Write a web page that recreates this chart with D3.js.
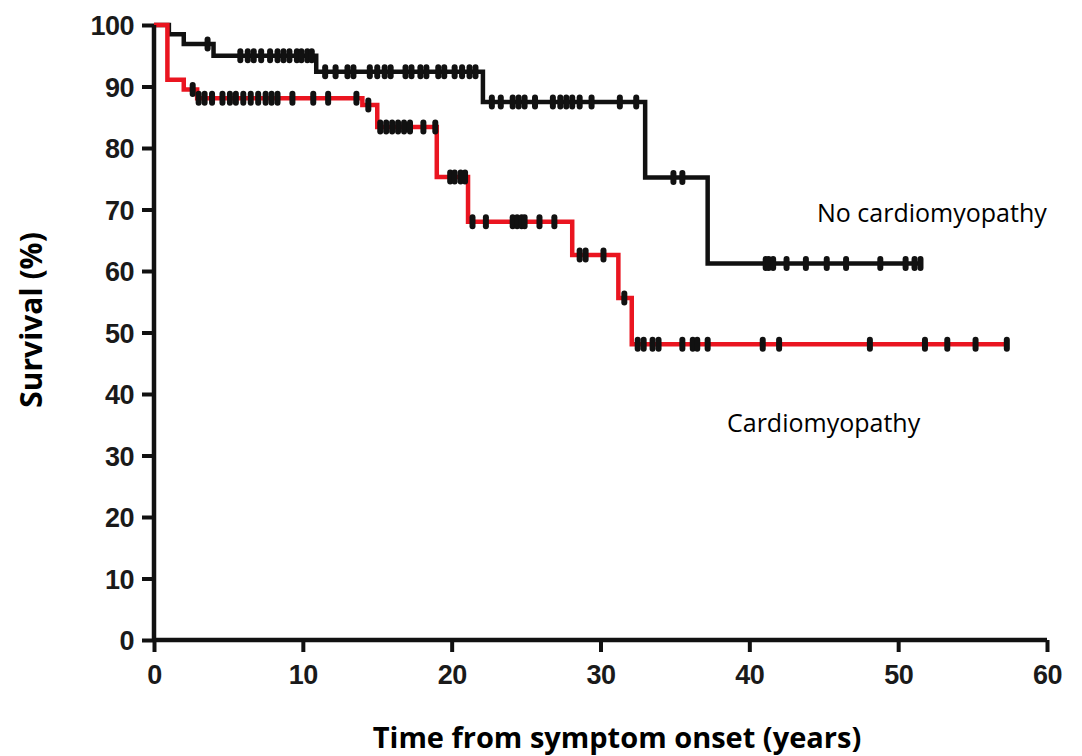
<!DOCTYPE html>
<html>
<head>
<meta charset="utf-8">
<script src="https://cdn.jsdelivr.net/npm/d3@7"></script>
<style>
  html, body { margin: 0; padding: 0; background: #fff; }
  svg { display: block; }
</style>
</head>
<body>
<svg id="chart" width="1082" height="756"></svg>
<script>
// Kaplan–Meier steps: [time in years, survival %]
const noCmSteps = [[0, 100], [1.0, 98.5], [2.0, 96.9], [4.0, 95.0], [10.9, 92.4], [22.1, 87.5], [33.0, 75.2], [37.2, 61.2], [51.5, 61.2]];
const cmSteps = [[0, 100], [0.9, 91.1], [2.0, 89.5], [2.9, 88.1], [14.0, 87.0], [15.0, 83.4], [19.0, 75.3], [21.1, 68.0], [28.1, 62.6], [31.2, 55.6], [32.1, 48.1], [57.3, 48.1]];

// Censored observations (times in years)
const noCmCensored = [3.6,
  5.8, 6.3, 6.7, 7.2, 7.8, 8.3, 8.7, 9.1, 9.6, 9.9, 10.3, 10.6,
  11.5, 12.2, 13.0, 13.4, 14.5, 15.0, 15.5, 15.9, 16.9, 17.3, 17.9, 18.3, 19.1, 19.5, 20.2, 20.7, 21.2, 21.6,
  22.7, 23.3, 24.1, 24.5, 24.9, 25.6, 26.8, 27.3, 27.7, 28.1, 28.6, 29.4, 31.3, 32.4,
  34.9, 35.5,
  41.1, 41.3, 41.6, 42.5, 43.8, 45.2, 46.5, 48.8, 50.5, 51.1, 51.5];
const cmCensored = [2.6,
  3.0, 3.4, 3.9, 4.6, 5.1, 5.5, 6.0, 6.5, 7.0, 7.5, 7.9, 8.3, 9.3, 10.7, 11.7, 13.6, 14.4,
  15.2, 15.6, 16.0, 16.4, 16.8, 17.2, 18.1, 18.9,
  19.9, 20.2, 20.6, 20.9,
  21.4, 22.3, 24.1, 24.4, 24.7, 24.9, 25.9, 26.9,
  28.6, 29.0, 30.2,
  31.6,
  32.5, 32.9, 33.5, 33.9, 35.5, 36.2, 36.5, 37.2, 40.9, 42.0, 48.1, 51.8, 53.3, 55.2, 57.3];

const xTicks = [0, 10, 20, 30, 40, 50, 60];
const yTicks = [0, 10, 20, 30, 40, 50, 60, 70, 80, 90, 100];

const svg = d3.select("#chart");
const x = d3.scaleLinear().domain([0, 60]).range([154, 1047]);
const y = d3.scaleLinear().domain([0, 100]).range([640, 25]);

// survival level at time t for a step series
function levelAt(steps, t) {
  let v = steps[0][1];
  for (const [st, sv] of steps) { if (st <= t) v = sv; else break; }
  return v;
}

const line = d3.line().x(d => x(d[0])).y(d => y(d[1])).curve(d3.curveStepAfter);

function drawGroup(steps, censored, color) {
  const g = svg.append("g");
  g.append("path")
    .attr("d", line(steps))
    .attr("fill", "none")
    .attr("stroke", color)
    .attr("stroke-width", 4.5)
    .attr("stroke-linejoin", "miter");
  g.selectAll("rect.cens")
    .data(censored)
    .join("rect")
    .attr("class", "cens")
    .attr("x", d => x(d) - 3)
    .attr("y", d => y(levelAt(steps, d)) - 7.5)
    .attr("width", 6)
    .attr("height", 15)
    .attr("rx", 3)
    .attr("fill", "#111");
}

drawGroup(noCmSteps, noCmCensored, "#111");
drawGroup(cmSteps, cmCensored, "#ea1520");

// Axes
const xAxis = d3.axisBottom(x).tickValues(xTicks).tickSize(12).tickPadding(13).tickFormat(d3.format("d"));
const yAxis = d3.axisLeft(y).tickValues(yTicks).tickSize(12).tickPadding(8).tickFormat(d3.format("d"));

const gx = svg.append("g").attr("transform", "translate(0,640)").call(xAxis);
const gy = svg.append("g").attr("transform", "translate(154,0)").call(yAxis);

[gx, gy].forEach(g => {
  g.select(".domain").attr("stroke", "#111").attr("stroke-width", 4.5);
  g.selectAll(".tick line").attr("stroke", "#111").attr("stroke-width", 4);
  g.selectAll(".tick text")
    .attr("fill", "#1a1a1a")
    .style("font-family", "'Liberation Sans', Arial, sans-serif")
    .style("font-weight", "bold")
    .style("font-size", "27px")
    .style("letter-spacing", "-0.5px");
});
gx.select(".domain").attr("d", `M${x(0)},0H${x(60)}`);
gy.select(".domain").attr("d", `M0,${y(0)}V${y(100)}`);
gy.selectAll(".tick text").attr("dy", "0.36em");

// Axis titles
svg.append("text")
  .attr("x", 617).attr("y", 748)
  .attr("text-anchor", "middle")
  .style("font-family", "'Open Sans', 'Noto Sans', sans-serif")
  .style("font-weight", "bold")
  .style("font-size", "29px")
  .attr("fill", "#000")
  .text("Time from symptom onset (years)");

svg.append("text")
  .attr("transform", "translate(42,320) rotate(-90)")
  .attr("text-anchor", "middle")
  .style("font-family", "'Open Sans', 'Noto Sans', sans-serif")
  .style("font-weight", "bold")
  .style("font-size", "30px")
  .attr("fill", "#000")
  .text("Survival (%)");

// Group labels
svg.append("text")
  .attr("x", 817).attr("y", 222)
  .style("font-family", "'Open Sans', 'Noto Sans', sans-serif")
  .style("font-size", "25px")
  .attr("fill", "#000")
  .text("No cardiomyopathy");

svg.append("text")
  .attr("x", 727).attr("y", 432)
  .style("font-family", "'Open Sans', 'Noto Sans', sans-serif")
  .style("font-size", "25px")
  .attr("fill", "#000")
  .text("Cardiomyopathy");
</script>
</body>
</html>
